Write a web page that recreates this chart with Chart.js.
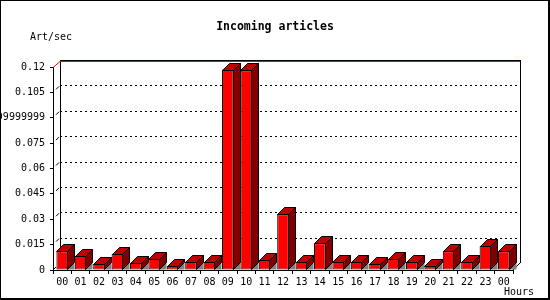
<!DOCTYPE html>
<html>
<head>
<meta charset="utf-8">
<script src="https://cdn.jsdelivr.net/npm/chart.js@4/dist/chart.umd.min.js"></script>
<style>
html,body{margin:0;padding:0;background:#fff;}
#wrap{width:550px;height:300px;}
</style>
</head>
<body>
<div id="wrap"><canvas id="c" width="550" height="300"></canvas></div>
<script>
const titleText = 'Incoming articles';
const yAxisTitle = 'Art/sec';
const xAxisTitle = 'Hours';
const hours = ['00','01','02','03','04','05','06','07','08','09','10','11','12','13','14','15','16','17','18','19','20','21','22','23','00'];
const articlesPerSec = [0.0111,0.0083,0.0035,0.0094,0.0041,0.0065,0.0024,0.0047,0.0047,0.1185,0.1180,0.0059,0.0330,0.0047,0.0158,0.0047,0.0047,0.0035,0.0065,0.0047,0.0024,0.0111,0.0047,0.0142,0.0111];
const yTickValues = [0,0.015,0.03,0.045,0.06,0.075,0.09,0.105,0.12];
const yTickLabels = ['0','0.015','0.03','0.045','0.06','0.075','0.08999999999999999','0.105','0.12'];

const DX = 7, DY = 7;
const MONO = '"DejaVu Sans Mono", "Liberation Mono", monospace';

const threeD = {
  id: 'threeD',
  beforeDraw(chart) {
    const ctx = chart.ctx;
    ctx.save();
    ctx.fillStyle = '#fff';
    ctx.fillRect(0, 0, chart.width, chart.height);
    ctx.restore();
  },
  beforeDatasetsDraw(chart) {
    const ctx = chart.ctx, a = chart.chartArea, ys = chart.scales.y;
    ctx.save();
    // dashed grid lines on back plane
    ctx.strokeStyle = '#000';
    ctx.lineWidth = 1;
    ctx.setLineDash([2, 3]);
    yTickValues.forEach(v => {
      if (v <= 0 || v >= 0.12) return;
      const y = Math.round(ys.getPixelForValue(v)) - DY + 0.5;
      ctx.beginPath();
      ctx.moveTo(a.left + DX, y);
      ctx.lineTo(a.right + DX, y);
      ctx.stroke();
    });
    ctx.setLineDash([]);
    // small diagonal tick marks
    yTickValues.forEach(v => {
      if (v >= 0.12) return;
      const y = ys.getPixelForValue(v);
      const off = v === 0 ? 0 : 3;
      ctx.beginPath();
      ctx.moveTo(a.left + off, y - off);
      ctx.lineTo(a.left + off + 3, y - off - 3);
      ctx.stroke();
    });
    // back frame
    const topB = Math.round(ys.getPixelForValue(0.12)) - DY;
    const botB = Math.round(ys.getPixelForValue(0)) - DY;
    ctx.fillStyle = '#000';
    ctx.fillRect(a.left + DX, topB, a.right - a.left + 1, 1);
    ctx.fillRect(a.left + DX, topB, 1, botB - topB);
    ctx.fillRect(a.right + DX, topB, 1, botB - topB);
    ctx.fillStyle = '#f00';
    ctx.fillRect(a.left + DX, topB + 1, a.right - a.left, 1);
    ctx.strokeStyle = '#f00';
    ctx.beginPath();
    ctx.moveTo(a.left, a.top + 0.5);
    ctx.lineTo(a.left + DX, topB + 1.5);
    ctx.stroke();
    ctx.strokeStyle = '#000';
    ctx.beginPath();
    ctx.moveTo(a.right, a.bottom);
    ctx.lineTo(a.right + DX, a.bottom - DY);
    ctx.stroke();
    ctx.restore();
  },
  afterDatasetsDraw(chart) {
    const ctx = chart.ctx;
    const meta = chart.getDatasetMeta(0);
    ctx.save();
    ctx.lineWidth = 1;
    ctx.strokeStyle = '#000';
    meta.data.forEach(el => {
      const p = el.getProps(['x', 'y', 'width', 'base'], true);
      const l = Math.round(p.x - p.width / 2) + 0.5;
      const r = Math.round(p.x + p.width / 2) - 0.5;
      const t = Math.round(p.y) + 0.5;
      const b = Math.round(p.base) - 0.5;
      // floor shadow
      ctx.fillStyle = '#808080';
      ctx.beginPath();
      ctx.moveTo(r, b);
      ctx.lineTo(r + DX, b - DY);
      ctx.lineTo(r + DX, b);
      ctx.closePath();
      ctx.fill();
      // top face
      ctx.fillStyle = '#c00000';
      ctx.beginPath();
      ctx.moveTo(l, t);
      ctx.lineTo(l + DX, t - DY);
      ctx.lineTo(r + DX, t - DY);
      ctx.lineTo(r, t);
      ctx.closePath();
      ctx.fill();
      ctx.stroke();
      // side face
      ctx.fillStyle = '#800000';
      ctx.beginPath();
      ctx.moveTo(r, t);
      ctx.lineTo(r + DX, t - DY);
      ctx.lineTo(r + DX, b - DY);
      ctx.lineTo(r, b);
      ctx.closePath();
      ctx.fill();
      ctx.stroke();
    });
    ctx.restore();
  },
  afterDraw(chart) {
    const ctx = chart.ctx;
    ctx.save();
    ctx.fillStyle = '#000';
    ctx.textBaseline = 'middle';
    ctx.font = 'bold 11.5px ' + MONO;
    ctx.textAlign = 'center';
    ctx.fillText(titleText, 275, 27);
    ctx.font = '10px ' + MONO;
    ctx.textAlign = 'left';
    ctx.fillText(yAxisTitle, 30, 37);
    ctx.textAlign = 'right';
    ctx.fillText(xAxisTitle, 534, 292);
    // image border
    ctx.fillRect(0, 0, 550, 1);
    ctx.fillRect(0, 0, 1, 300);
    ctx.fillRect(548, 0, 2, 300);
    ctx.fillRect(0, 298, 550, 2);
    ctx.restore();
  }
};

new Chart(document.getElementById('c'), {
  type: 'bar',
  data: {
    labels: hours,
    datasets: [{
      data: articlesPerSec,
      backgroundColor: '#ff0000',
      borderColor: '#000',
      borderWidth: 1,
      borderSkipped: false,
      barPercentage: 0.63,
      categoryPercentage: 1
    }]
  },
  options: {
    responsive: false,
    animation: false,
    events: [],
    layout: { padding: { top: 67, right: 37, left: 0, bottom: 0 } },
    plugins: { legend: { display: false }, tooltip: { enabled: false }, title: { display: false } },
    scales: {
      x: {
        offset: true,
        grid: { offset: true, drawOnChartArea: false, drawTicks: true, tickLength: 4, color: '#000' },
        border: { display: true, color: '#000' },
        ticks: { color: '#000', font: { family: MONO, size: 10 }, maxRotation: 0, minRotation: 0, autoSkip: false, padding: 2 },
        afterFit(s) { s.height = 30; }
      },
      y: {
        min: 0,
        max: 0.12,
        afterBuildTicks(s) { s.ticks = yTickValues.map(v => ({ value: v })); },
        grid: { drawOnChartArea: false, drawTicks: true, tickLength: 3, color: '#000' },
        border: { display: true, color: '#000' },
        ticks: { color: '#000', font: { family: MONO, size: 10 }, padding: 5, autoSkip: false,
                 callback: (v, i) => yTickLabels[i] },
        afterFit(s) { s.width = 53; }
      }
    }
  },
  plugins: [threeD]
});
</script>
</body>
</html>
